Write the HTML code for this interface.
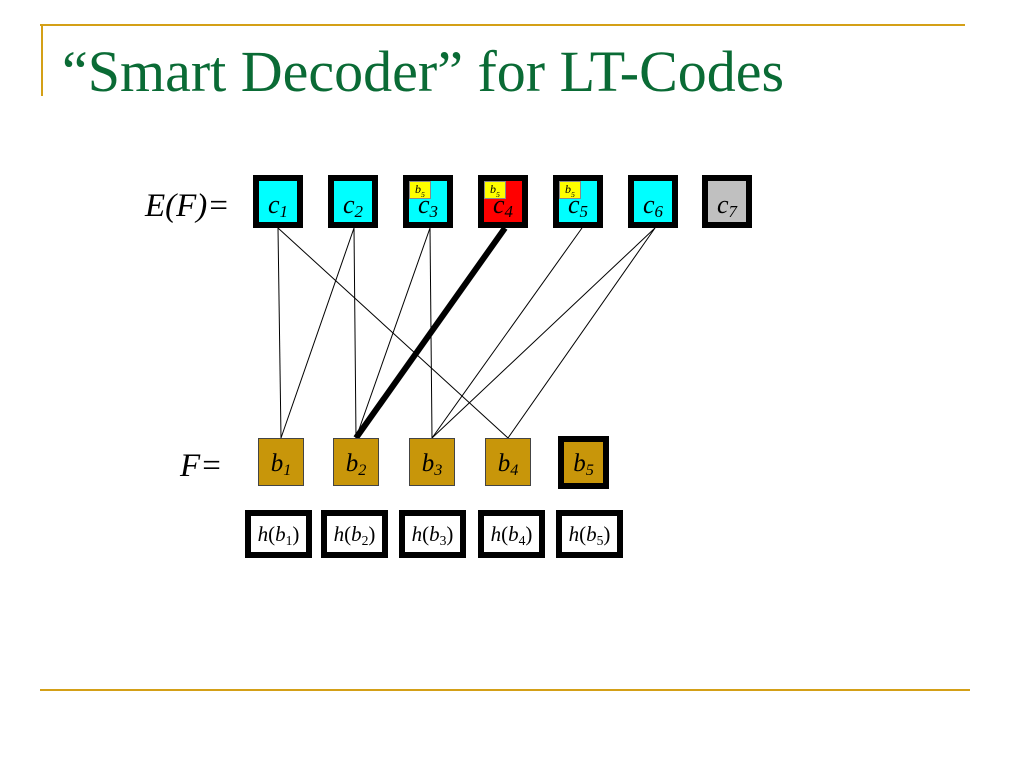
<!DOCTYPE html>
<html><head><style>
body{margin:0;width:1024px;height:768px;background:#fff;overflow:hidden;position:relative;font-family:"Liberation Serif",serif}
.t{position:absolute;left:62px;top:43px;font-size:58px;line-height:1;color:#0a6b35;white-space:nowrap}
.c{position:absolute;top:175px;width:38px;height:41px;border:6px solid #000;background:#0ff;font-style:italic;font-size:26px;text-align:center;line-height:48px}
.b{position:absolute;top:438px;width:44px;height:46px;border:1px solid #444;background:#c8960a;font-style:italic;font-size:25px;text-align:center;line-height:50px}
.h{position:absolute;top:510px;width:55px;height:36px;border:6px solid #000;background:#fff;font-size:21px;text-align:center;line-height:36px}
.y{position:absolute;left:0;top:0;width:20px;height:16px;background:#ff0;border:1px solid #888;font-size:12px;line-height:14px;font-style:italic;text-align:center}
sub{font-size:65%;vertical-align:-4px}
</style></head><body>
<div style="position:absolute;left:40px;top:24px;width:925px;height:2px;background:#d4a017"></div>
<div style="position:absolute;left:41px;top:24px;width:2px;height:72px;background:#d4a017"></div>
<div style="position:absolute;left:40px;top:689px;width:930px;height:2px;background:#d4a017"></div>
<div class="t">“Smart Decoder” for LT-Codes</div>
<svg width="1024" height="768" style="position:absolute;left:0;top:0">
<g stroke="#000" stroke-width="1">
<line x1="278" y1="228" x2="281" y2="438"/><line x1="278" y1="228" x2="508" y2="438"/>
<line x1="354" y1="228" x2="281" y2="438"/><line x1="354" y1="228" x2="356" y2="438"/>
<line x1="430" y1="228" x2="356" y2="438"/><line x1="430" y1="228" x2="432" y2="438"/>
<line x1="582" y1="228" x2="432" y2="438"/>
<line x1="655" y1="228" x2="432" y2="438"/><line x1="655" y1="228" x2="508" y2="438"/>
</g>
<line x1="505" y1="228" x2="356" y2="438" stroke="#000" stroke-width="6"/>
</svg>
<div style="position:absolute;left:145px;top:188px;font-size:33px;font-style:italic">E(F)=</div>
<div class="c" style="left:253px">c<sub>1</sub></div>
<div class="c" style="left:328px">c<sub>2</sub></div>
<div class="c" style="left:403px"><div class="y">b<sub>5</sub></div>c<sub>3</sub></div>
<div class="c" style="left:478px;background:#f00"><div class="y">b<sub>5</sub></div>c<sub>4</sub></div>
<div class="c" style="left:553px"><div class="y">b<sub>5</sub></div>c<sub>5</sub></div>
<div class="c" style="left:628px">c<sub>6</sub></div>
<div class="c" style="left:702px;background:#c0c0c0">c<sub>7</sub></div>
<div style="position:absolute;left:180px;top:448px;font-size:33px;font-style:italic">F=</div>
<div class="b" style="left:258px">b<sub>1</sub></div>
<div class="b" style="left:333px">b<sub>2</sub></div>
<div class="b" style="left:409px">b<sub>3</sub></div>
<div class="b" style="left:485px">b<sub>4</sub></div>
<div class="b" style="left:558px;top:436px;width:39px;height:41px;border:6px solid #000;line-height:44px">b<sub>5</sub></div>
<div class="h" style="left:245px"><i>h</i>(<i>b</i><sub>1</sub>)</div>
<div class="h" style="left:321px"><i>h</i>(<i>b</i><sub>2</sub>)</div>
<div class="h" style="left:399px"><i>h</i>(<i>b</i><sub>3</sub>)</div>
<div class="h" style="left:478px"><i>h</i>(<i>b</i><sub>4</sub>)</div>
<div class="h" style="left:556px"><i>h</i>(<i>b</i><sub>5</sub>)</div>
</body></html>
